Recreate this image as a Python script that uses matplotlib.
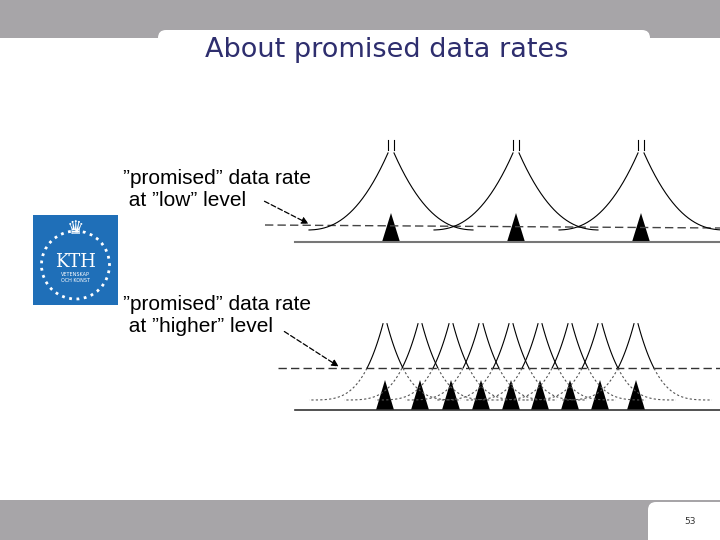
import numpy as np
import matplotlib
matplotlib.use("Agg")
import matplotlib.pyplot as plt
from matplotlib.patches import FancyBboxPatch, Rectangle, Polygon

# tower positions (pixel x) for the two scenarios
towers_low = [391, 516, 641]
towers_high = [385, 420, 451, 481, 511, 540, 570, 600, 636]
label_low = "\u201dpromised\u201d data rate\n at \u201dlow\u201d level"
label_high = "\u201dpromised\u201d data rate\n at \u201dhigher\u201d level"
title = "About promised data rates"
page = "53"

GRAY = "#a7a5a8"

fig = plt.figure(figsize=(7.2, 5.4), dpi=100)
ax = fig.add_axes([0, 0, 1, 1])
ax.set_xlim(0, 720)
ax.set_ylim(540, 0)
ax.axis("off")

# slide frame
ax.add_patch(Rectangle((0, 0), 720, 38, color=GRAY, lw=0))
ax.add_patch(FancyBboxPatch((158, 30), 492, 30, boxstyle="round,pad=0,rounding_size=8",
                            color="white", lw=0))
ax.add_patch(Rectangle((0, 500), 720, 40, color=GRAY, lw=0))
ax.add_patch(FancyBboxPatch((648, 502), 80, 50, boxstyle="round,pad=0,rounding_size=8",
                            color="white", lw=0))
ax.text(387, 50, title, ha="center", va="center", fontsize=19.5, color="#2e2e6e")
ax.text(690, 521, page, ha="center", va="center", fontsize=6.5, color="#333333")

# KTH logo
ax.add_patch(Rectangle((33, 215), 85, 90, color="#1f6fb8", lw=0))
ax.add_patch(plt.Circle((75.5, 265), 34, fill=False, ec="white", lw=2, ls=":"))
ax.text(75.5, 262, "KTH", ha="center", va="center", fontsize=13, color="white",
        family="DejaVu Serif")
ax.text(75.5, 275, "VETENSKAP", ha="center", va="center", fontsize=3.5, color="white")
ax.text(75.5, 281, "OCH KONST", ha="center", va="center", fontsize=3.5, color="white")
ax.text(75.5, 228, "\u265b", ha="center", va="center", fontsize=14, color="white")


def tri(x, apex, base, half):
    ax.add_patch(Polygon([(x - half, base), (x + half, base), (x, apex)], color="black", lw=0))


# ---- top: low level ----
ax.plot([295, 720], [242, 242], color="#777777", lw=1.5)
ax.plot([265, 720], [225, 228], color="#444444", lw=1, ls=(0, (6, 3)))
dx = np.linspace(3, 82, 200)
for t in towers_low:
    y = 230 - 84 * (1 - dx / 85) ** 2.4
    for s in (1, -1):
        ax.plot(t + s * dx, y, color="black", lw=0.8)
        ax.plot([t + s * 3, t + s * 3], [150, 140], color="black", lw=0.8)
    tri(t, 213, 242, 9)

ax.text(123, 189, label_low, ha="left", va="center", fontsize=15, color="black",
        family="Liberation Sans", linespacing=1.2)
ax.annotate("", xy=(311, 225), xytext=(262, 200),
            arrowprops=dict(arrowstyle="-|>", ls=(0, (4, 2)), lw=0.9, color="black"))

# ---- bottom: higher level ----
ax.plot([295, 720], [410, 410], color="#333333", lw=1.2)
ax.plot([278, 720], [368, 368], color="#333333", lw=1, ls=(0, (6, 3)))
dx = np.linspace(2, 76, 300)
for t in towers_high:
    y = 400 - 84 * (1 - dx / 78) ** 3.7
    solid = y <= 368
    for s in (1, -1):
        ax.plot(t + s * dx[solid], y[solid], color="black", lw=0.8)
        ax.plot(t + s * dx[~solid], y[~solid], color="#555555", lw=0.8, ls=(0, (2, 2)))
    tri(t, 380, 410, 9)

ax.text(123, 315, label_high, ha="left", va="center", fontsize=15, color="black",
        family="Liberation Sans", linespacing=1.2)
ax.annotate("", xy=(341, 368), xytext=(282, 330),
            arrowprops=dict(arrowstyle="-|>", ls=(0, (4, 2)), lw=0.9, color="black"))

fig.savefig("out.png", dpi=100)
